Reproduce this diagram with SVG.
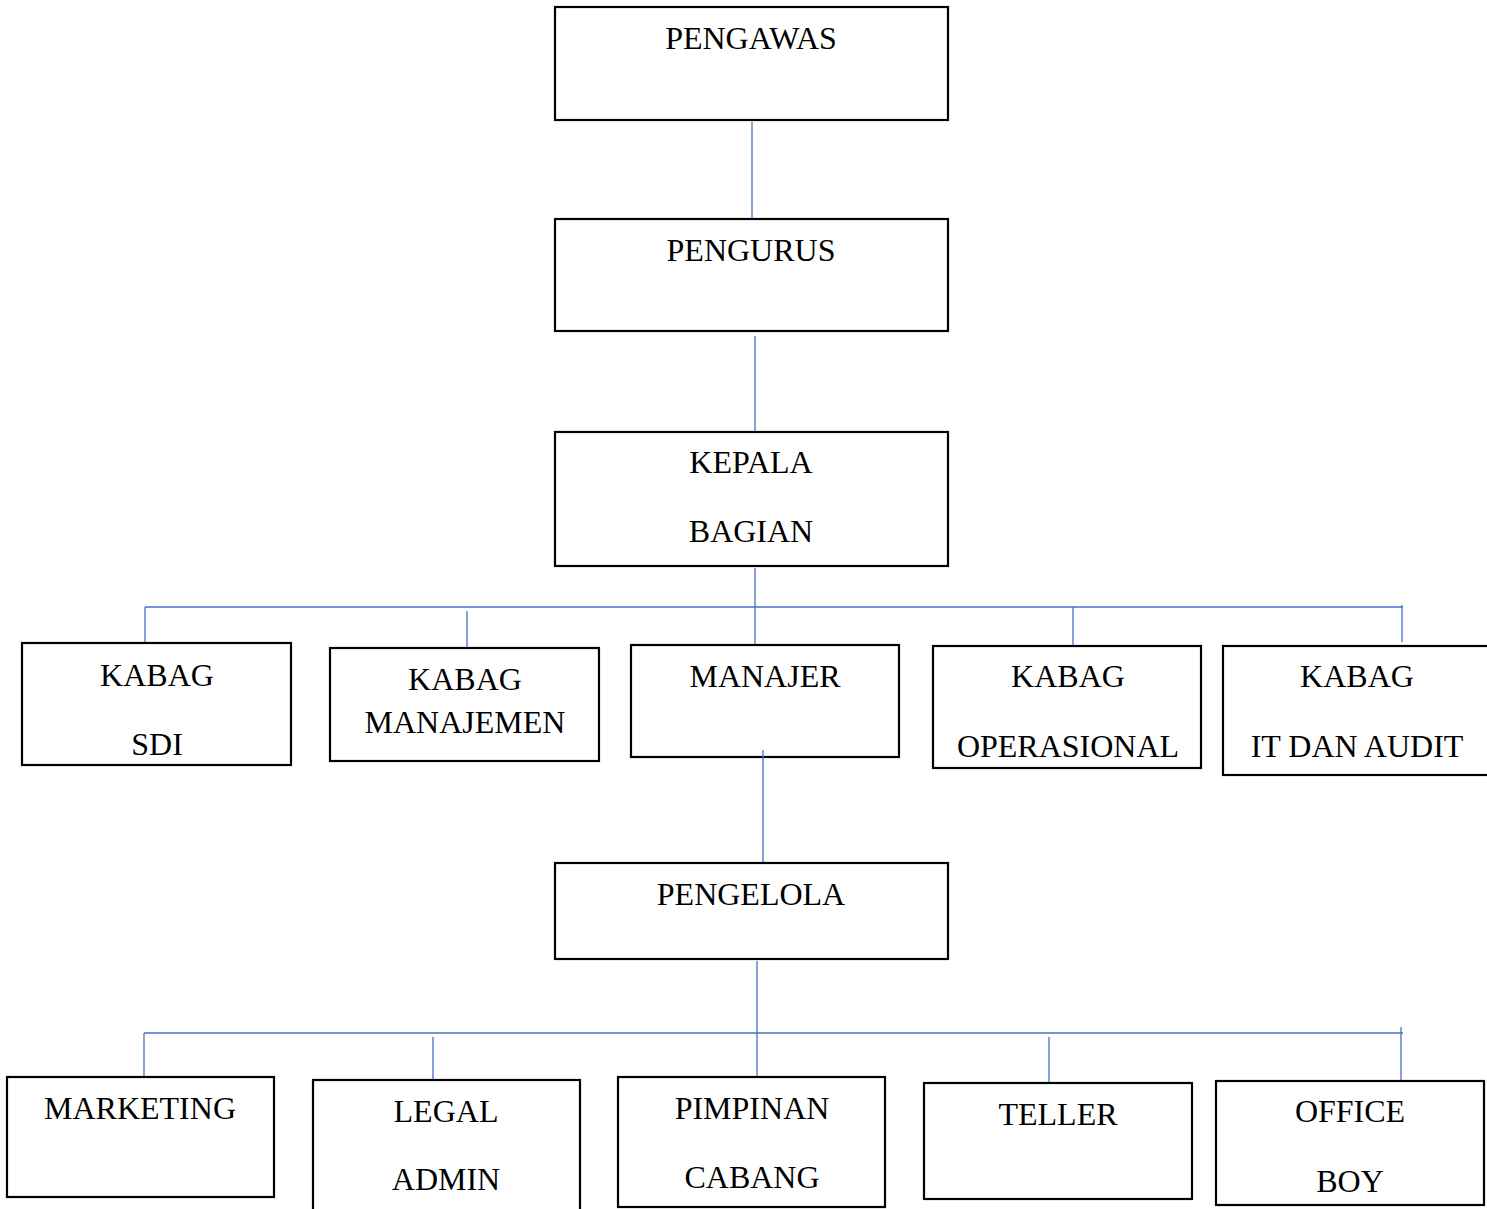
<svg xmlns="http://www.w3.org/2000/svg" width="1487" height="1209" viewBox="0 0 1487 1209">
<style>
.box{fill:#fff;stroke:#000;stroke-width:2.2}
.t{font-family:"Liberation Serif","Times New Roman",serif;font-size:32px;fill:#000;text-anchor:middle}
.c{stroke:#4472C4;stroke-width:1.3;fill:none}
</style>
<rect width="1487" height="1209" fill="#fff"/>
<g id="pengawas"><rect class="box" x="555" y="7" width="393" height="113"/><text class="t" x="751" y="49">PENGAWAS</text></g>
<g id="pengurus"><rect class="box" x="555" y="219" width="393" height="112"/><text class="t" x="751" y="261">PENGURUS</text></g>
<g id="kepala-bagian"><rect class="box" x="555" y="432" width="393" height="134"/><text class="t" x="751" y="473">KEPALA</text><text class="t" x="751" y="542">BAGIAN</text></g>
<g id="kabag-sdi"><rect class="box" x="22" y="643" width="269" height="122"/><text class="t" x="157" y="686">KABAG</text><text class="t" x="157" y="755">SDI</text></g>
<g id="kabag-manajemen"><rect class="box" x="330" y="648" width="269" height="113"/><text class="t" x="465" y="690">KABAG</text><text class="t" x="465" y="733">MANAJEMEN</text></g>
<g id="manajer"><rect class="box" x="631" y="645" width="268" height="112"/><text class="t" x="765" y="687">MANAJER</text></g>
<g id="kabag-operasional"><rect class="box" x="933" y="646" width="268" height="122"/><text class="t" x="1068" y="757" >OPERASIONAL</text><text class="t" x="1068" y="687">KABAG</text></g>
<g id="kabag-it"><rect class="box" x="1223" y="646" width="270" height="129"/><text class="t" x="1357" y="687">KABAG</text><text class="t" x="1357" y="757">IT DAN AUDIT</text></g>
<g id="pengelola"><rect class="box" x="555" y="863" width="393" height="96"/><text class="t" x="751" y="905">PENGELOLA</text></g>
<g id="marketing"><rect class="box" x="7" y="1077" width="267" height="120"/><text class="t" x="140" y="1119">MARKETING</text></g>
<g id="legal-admin"><rect class="box" x="313" y="1080" width="267" height="135"/><text class="t" x="446" y="1122">LEGAL</text><text class="t" x="446" y="1190">ADMIN</text></g>
<g id="pimpinan-cabang"><rect class="box" x="618" y="1077" width="267" height="130"/><text class="t" x="752" y="1119">PIMPINAN</text><text class="t" x="752" y="1188">CABANG</text></g>
<g id="teller"><rect class="box" x="924" y="1083" width="268" height="116"/><text class="t" x="1058" y="1125">TELLER</text></g>
<g id="office-boy"><rect class="box" x="1216" y="1081" width="268" height="124"/><text class="t" x="1350" y="1122">OFFICE</text><text class="t" x="1350" y="1192">BOY</text></g>
<g id="connectors">
<line class="c" x1="752" y1="122" x2="752" y2="218"/>
<line class="c" x1="755" y1="336" x2="755" y2="431"/>
<line class="c" x1="755" y1="568" x2="755" y2="644"/>
<line class="c" x1="145" y1="607" x2="1403" y2="607"/>
<line class="c" x1="145" y1="607" x2="145" y2="642"/>
<line class="c" x1="467" y1="611" x2="467" y2="647"/>
<line class="c" x1="1073" y1="607" x2="1073" y2="645"/>
<line class="c" x1="1402" y1="605" x2="1402" y2="642"/>
<line class="c" x1="763" y1="750" x2="763" y2="862"/>
<line class="c" x1="757" y1="961" x2="757" y2="1076"/>
<line class="c" x1="144" y1="1033" x2="1403" y2="1033"/>
<line class="c" x1="144" y1="1033" x2="144" y2="1076"/>
<line class="c" x1="433" y1="1037" x2="433" y2="1079"/>
<line class="c" x1="1049" y1="1037" x2="1049" y2="1082"/>
<line class="c" x1="1401" y1="1027" x2="1401" y2="1080"/>
</g>
</svg>
